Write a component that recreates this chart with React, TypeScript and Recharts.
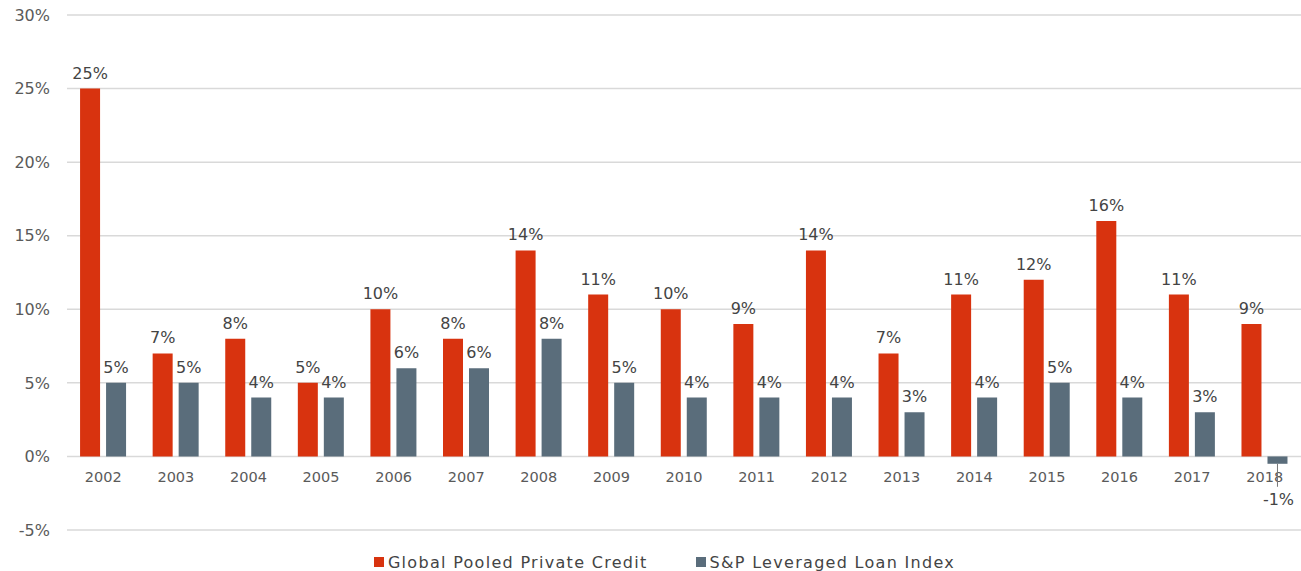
import React from 'react';
import { BarChart, Bar, XAxis, YAxis, CartesianGrid, Legend, LabelList } from 'recharts';

const years = ['2002', '2003', '2004', '2005', '2006', '2007', '2008', '2009', '2010', '2011', '2012', '2013', '2014', '2015', '2016', '2017', '2018'];
const privateCredit = [25, 7, 8, 5, 10, 8, 14, 11, 10, 9, 14, 7, 11, 12, 16, 11, 9];
const leveragedLoans = [5, 5, 4, 4, 6, 6, 8, 5, 4, 4, 4, 3, 4, 5, 4, 3, -0.5];
const yTicks = [-5, 0, 5, 10, 15, 20, 25, 30];

const RED = '#d8330f';
const SLATE = '#5a6d7b';
const FONT = '"DejaVu Sans", sans-serif';

const W = 1301;
const H = 571;
const TOP = 15;
const PLOT_BOTTOM = 530;
const PLOT_H = PLOT_BOTTOM - TOP;
// distance from plot bottom (-5%) up to the 0% line
const ZERO_SHIFT = (PLOT_H * 5) / 35;

const chartData = years.map((year, i) => ({
  year,
  credit: privateCredit[i],
  loans: leveragedLoans[i],
}));

const fmt = (v: number) => `${Math.sign(v) * Math.round(Math.abs(v))}%`;

const XTick = (props: any) => {
  const { x, y, payload } = props;
  return (
    <text x={x} y={y - ZERO_SHIFT + 24} textAnchor="middle" fill="#5a5a5a" fontSize={14.5} fontFamily={FONT}>
      {payload.value}
    </text>
  );
};

const BarLabel = (props: any) => {
  const { x, y, width, height, value } = props;
  const v = Number(value);
  const cx = x + width / 2;
  if (v >= 0) {
    return (
      <text x={cx} y={y - 10} textAnchor="middle" fill="#444" fontSize={16} fontFamily={FONT}>
        {fmt(v)}
      </text>
    );
  }
  const bottom = Math.max(y, y + height);
  return (
    <g>
      <line x1={cx} x2={cx} y1={bottom} y2={bottom + 23} stroke="#777" strokeWidth={1} />
      <text x={cx + 1} y={bottom + 41} textAnchor="middle" fill="#444" fontSize={16} fontFamily={FONT}>
        {fmt(v)}
      </text>
    </g>
  );
};

const LegendContent = () => {
  const items = [
    { label: 'Global Pooled Private Credit', color: RED },
    { label: 'S&P Leveraged Loan Index', color: SLATE },
  ];
  return (
    <div
      style={{
        height: 26,
        boxSizing: 'border-box',
        paddingTop: 8,
        paddingLeft: 28,
        display: 'flex',
        justifyContent: 'center',
        alignItems: 'center',
        gap: 48,
        fontFamily: FONT,
        fontSize: 16,
        letterSpacing: 1.3,
        color: '#444',
      }}
    >
      {items.map((it) => (
        <span key={it.label} style={{ display: 'flex', alignItems: 'center' }}>
          <span style={{ width: 10, height: 10, background: it.color, marginRight: 4, display: 'inline-block' }} />
          {it.label}
        </span>
      ))}
    </div>
  );
};

export default function App() {
  return (
    <div style={{ width: W, height: H, background: '#fff' }}>
      <style>{'body{margin:0}'}</style>
      <BarChart
        width={W}
        height={H}
        data={chartData}
        margin={{ top: TOP, right: 0, left: 0, bottom: 14 }}
        barCategoryGap="18%"
        barGap={6}
      >
        <CartesianGrid vertical={false} stroke="#d9d9d9" strokeWidth={1.5} />
        <XAxis
          dataKey="year"
          height={1}
          axisLine={false}
          tickLine={false}
          tickSize={0}
          tick={<XTick />}
          interval={0}
        />
        <YAxis
          width={67}
          domain={[-5, 30]}
          ticks={yTicks}
          tickFormatter={(v: number) => `${v}%`}
          axisLine={false}
          tickLine={false}
          tickSize={0}
          tickMargin={17}
          tick={{ fill: '#5a5a5a', fontSize: 16, fontFamily: FONT }}
        />
        <Legend verticalAlign="bottom" content={<LegendContent />} wrapperStyle={{ bottom: 0 }} />
        <Bar dataKey="credit" name="Global Pooled Private Credit" fill={RED} isAnimationActive={false}>
          <LabelList dataKey="credit" content={<BarLabel />} />
        </Bar>
        <Bar dataKey="loans" name="S&P Leveraged Loan Index" fill={SLATE} isAnimationActive={false}>
          <LabelList dataKey="loans" content={<BarLabel />} />
        </Bar>
      </BarChart>
    </div>
  );
}
